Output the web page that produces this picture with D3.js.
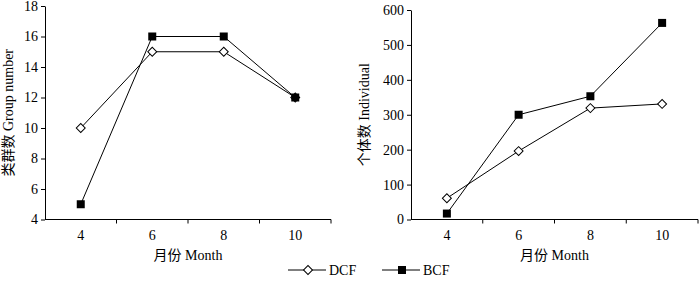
<!DOCTYPE html>
<html>
<head>
<meta charset="utf-8">
<script src="https://cdn.jsdelivr.net/npm/d3@7"></script>
<style>
  body { margin: 0; background: #fff; }
  svg { display: block; font-family: "Liberation Serif", "Times New Roman", "Noto Sans CJK SC", serif; }
  .tick text { font-size: 14px; fill: #000; }
  .title { font-size: 14px; fill: #000; }
</style>
</head>
<body>
<svg id="chart" width="700" height="283"></svg>
<script>
const months = ["4", "6", "8", "10"];
const groupDCF = [10, 15, 15, 12];
const groupBCF = [5, 16, 16, 12];
const indivDCF = [61, 196, 319, 331];
const indivBCF = [17, 300, 353, 563];
const groupTicks = [4, 6, 8, 10, 12, 14, 16, 18];
const indivTicks = [0, 100, 200, 300, 400, 500, 600];

const svg = d3.select("#chart");
const diamond = d3.symbol(d3.symbolSquare, 40);

function panel(opts) {
    let g = svg.append("g");
    let x = d3.scaleBand().domain(months).range([opts.x0, opts.x1]);
    let y = d3.scaleLinear().domain(opts.domain).range([opts.y1, opts.y0]);
    let cx = d => x(d) + x.bandwidth() / 2;

    // x axis: tick marks between categories, labels at band centres
    let xa = g.append("g").attr("transform", "translate(0," + opts.y1 + ")");
    xa.append("line").attr("x1", opts.x0).attr("x2", opts.x1).attr("stroke", "#000");
    xa.selectAll(".sep").data(months).enter().append("line")
        .attr("x1", d => x(d) + x.bandwidth()).attr("x2", d => x(d) + x.bandwidth())
        .attr("y1", 0).attr("y2", 4).attr("stroke", "#000");
    xa.selectAll(".lab").data(months).enter().append("text")
        .attr("class", "title")
        .attr("x", cx).attr("y", 20)
        .attr("text-anchor", "middle").text(d => d);

    let ya = g.append("g").attr("transform", "translate(" + opts.x0 + ",0)")
        .call(d3.axisLeft(y).tickValues(opts.ticks).tickSize(4).tickPadding(3).tickSizeOuter(0))
        .attr("font-family", null).attr("font-size", null);
    ya.select(".domain").attr("stroke", "#000");
    ya.selectAll(".tick line").attr("stroke", "#000");

    g.append("text").attr("class", "title")
        .attr("transform", "translate(" + opts.ylabX + "," + ((opts.y0 + opts.y1) / 2) + ") rotate(-90)")
        .attr("text-anchor", "middle").text(opts.ylab);
    g.append("text").attr("class", "title")
        .attr("x", (opts.x0 + opts.x1) / 2).attr("y", 260)
        .attr("text-anchor", "middle").text("月份 Month");

    let line = d3.line().x((d, i) => cx(months[i])).y(d => y(d));
    [opts.dcf, opts.bcf].forEach(s => {
        g.append("path").datum(s).attr("d", line)
            .attr("fill", "none").attr("stroke", "#000").attr("stroke-width", 1);
    });
    g.selectAll(".dia").data(opts.dcf).enter().append("path")
        .attr("d", diamond)
        .attr("transform", (d, i) => "translate(" + cx(months[i]) + "," + y(d) + ") rotate(45)")
        .attr("fill", "#fff").attr("stroke", "#000");
    g.selectAll(".sq").data(opts.bcf).enter().append("rect")
        .attr("x", (d, i) => cx(months[i]) - 4)
        .attr("y", d => y(d) - 4).attr("width", 8).attr("height", 8)
        .attr("fill", "#000");
}

panel({x0: 45, x1: 331, y0: 6, y1: 219.5, domain: [4, 18], ticks: groupTicks,
    ylab: "类群数 Group number", ylabX: 13, dcf: groupDCF, bcf: groupBCF});
panel({x0: 411, x1: 698, y0: 10, y1: 219.5, domain: [0, 600], ticks: indivTicks,
    ylab: "个体数 Individual", ylabX: 369, dcf: indivDCF, bcf: indivBCF});

// legend
let lg = svg.append("g").attr("transform", "translate(0,270)");
lg.append("line").attr("x1", 288).attr("x2", 326).attr("stroke", "#000");
lg.append("path").attr("d", diamond)
    .attr("transform", "translate(308,0) rotate(45)").attr("fill", "#fff").attr("stroke", "#000");
lg.append("text").attr("class", "title").attr("x", 329).attr("y", 5).text("DCF");
lg.append("line").attr("x1", 382).attr("x2", 420).attr("stroke", "#000");
lg.append("rect").attr("x", 398).attr("y", -4).attr("width", 8).attr("height", 8).attr("fill", "#000");
lg.append("text").attr("class", "title").attr("x", 423).attr("y", 5).text("BCF");
</script>
</body>
</html>
